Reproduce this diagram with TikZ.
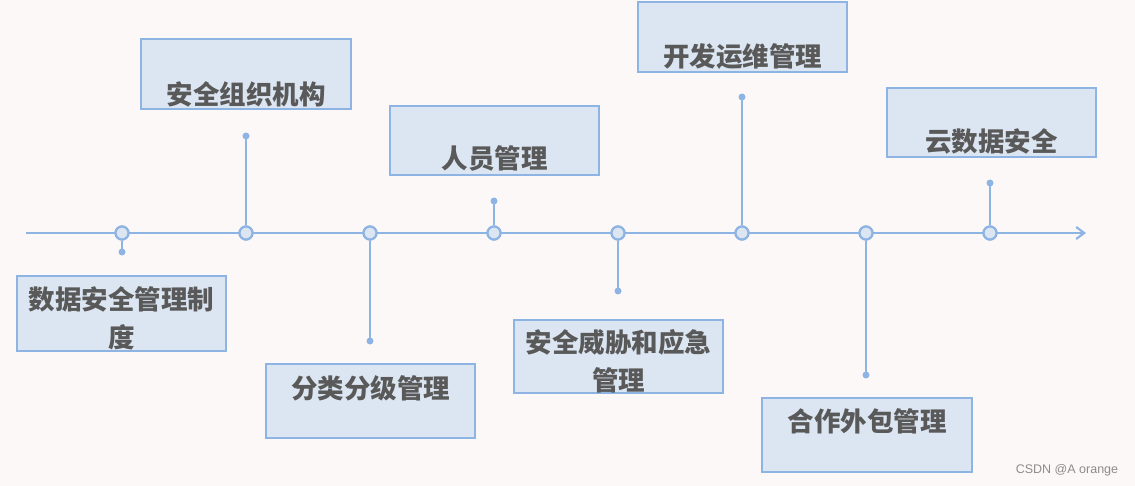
\documentclass[tikz,border=0pt]{standalone}
\usepackage{fontspec}
\newfontfamily\cjk{Noto Sans CJK SC}
\setsansfont{Liberation Sans}
\usetikzlibrary{arrows.meta}
\definecolor{bgc}{HTML}{FDF8F8}
\definecolor{boxfill}{HTML}{DCE6F2}
\definecolor{boxline}{HTML}{8EB4E3}
\definecolor{txt}{HTML}{595959}
\tikzset{
  card/.style={draw=boxline, line width=1.8pt, fill=boxfill, inner sep=0pt},
  lbl/.style={text=txt, font=\cjk\bfseries\fontsize{26.5}{38}\selectfont, inner sep=0pt, align=center},
  axisline/.style={draw=boxline, line width=2.2pt},
  ring/.style={circle, draw=boxline, line width=2.2pt, fill=boxfill, minimum size=13pt, inner sep=0pt},
  tip/.style={circle, fill=boxline, minimum size=7pt, inner sep=0pt},
  stem/.style={draw=boxline, line width=2.2pt},
}
\begin{document}
\begin{tikzpicture}[x=1pt,y=-1pt]
\fill[bgc] (0,0) rectangle (1135,486);
\useasboundingbox (0,0) rectangle (1135,486);
% axis
\coordinate (a0) at (26,233);
\coordinate (a1) at (1086,233);
\draw[axisline, -{Straight Barb[length=8pt,width=12pt]}] (a0) -- (a1);
% rings and tips
\foreach \i/\x/\y in {1/122/252, 2/246/136, 3/370/341, 4/494/201, 5/618/291, 6/742/97, 7/866/375, 8/990/183}{
  \node[tip] (t\i) at (\x,\y) {};
  \node[ring] (r\i) at (\x,233) {};
  \draw[stem] (r\i) -- (t\i.center);
  \node[ring] at (\x,233) {};
}
% boxes
\node[card, minimum width=209pt, minimum height=75pt] (b1) at (121.5,313.5) {};
\node[lbl] (l1) at (121.5,318.5) {数据安全管理制\\度};
\node[card, minimum width=210pt, minimum height=70pt] (b2) at (246,74) {};
\node[lbl] (l2) at (246,94) {安全组织机构};
\node[card, minimum width=209pt, minimum height=74pt] (b3) at (370.5,401) {};
\node[lbl] (l3) at (370.5,388) {分类分级管理};
\node[card, minimum width=209pt, minimum height=69pt] (b4) at (494.5,140.5) {};
\node[lbl] (l4) at (494.5,158) {人员管理};
\node[card, minimum width=209pt, minimum height=73pt] (b5) at (618.5,356.5) {};
\node[lbl] (l5) at (618.5,361) {安全威胁和应急\\管理};
\node[card, minimum width=209pt, minimum height=70pt] (b6) at (742.5,37) {};
\node[lbl] (l6) at (742.5,56) {开发运维管理};
\node[card, minimum width=210pt, minimum height=74pt] (b7) at (867,435) {};
\node[lbl] (l7) at (867,421) {合作外包管理};
\node[card, minimum width=209pt, minimum height=69pt] (b8) at (991.5,122.5) {};
\node[lbl] (l8) at (991.5,141) {云数据安全};
% watermark
\node[text=black!45, font=\sffamily\fontsize{12.5}{14}\selectfont, inner sep=0pt] (wm) at (1067,470) {CSDN @A orange};
\end{tikzpicture}
\end{document}
